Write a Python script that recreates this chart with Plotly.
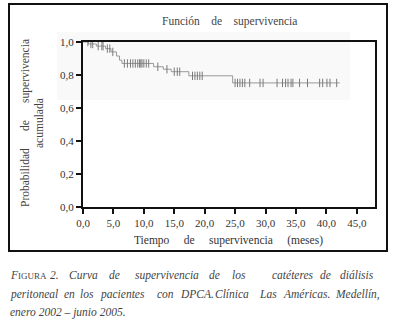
import numpy as np
import plotly.graph_objects as go

# Kaplan-Meier step data
step_times = [0.0, 0.9, 2.2, 3.7, 4.6, 5.5, 6.0, 6.4, 11.6, 13.2, 14.5, 17.4, 24.6]
step_surv = [1.0, 0.988, 0.975, 0.96, 0.94, 0.915, 0.89, 0.87, 0.85, 0.835, 0.82, 0.795, 0.752]
end_time = 42.2

censor_times = [0.8, 1.3, 1.6, 2.5, 3.1, 3.3, 4.0, 4.4, 4.9,
                6.8, 7.3, 7.8, 8.2, 8.6, 9.0, 9.3, 9.5, 9.7, 10.0, 10.4, 10.8,
                12.3, 13.8, 15.0, 15.5, 15.9,
                18.0, 18.4, 18.8, 19.2, 19.6,
                25.0, 25.4, 25.8, 26.2, 26.6, 27.4, 29.1, 29.6, 31.9, 32.8,
                33.3, 33.7, 34.2, 34.5, 35.6, 36.9, 38.9, 39.4, 40.1, 40.6, 41.7]

x_ticks = [0, 5, 10, 15, 20, 25, 30, 35, 40, 45]
y_ticks = [0.0, 0.2, 0.4, 0.6, 0.8, 1.0]

title_text = "Función de supervivencia"
x_title = "Tiempo de supervivencia (meses)"
y_title_1 = "Probabilidad de supervivencia"
y_title_2 = "acumulada"

caption_lines = [
    ["F<span style='font-size:9px;font-style:normal'>IGURA</span>", "2.", "Curva", "de", "supervivencia",
     "de", "los", "catéteres", "de", "diálisis"],
    ["peritoneal", "en", "los", "pacientes", "con", "DPCA.", "Clínica", "Las", "Américas.", "Medellín,"],
    ["enero 2002 – junio 2005."],
]
caption_word_px = [
    [8, 48, 67, 107, 133, 207, 230, 270, 318, 338],
    [8, 62, 78, 98, 155, 178, 213, 257, 281, 333],
    [8],
]
caption_line_py = [275, 294, 312]

# ---- geometry helpers (layout, pixels -> paper)
W, H = 397, 323
L, R, T, B = 83, 22, 42, 116
PW, PH = W - L - R, H - T - B


def px(x):
    return (x - L) / PW


def py(y):
    return (H - B - y) / PH


xs = list(step_times) + [end_time]
ys = list(step_surv) + [step_surv[-1]]
idx = np.searchsorted(np.array(step_times), np.array(censor_times), side="right") - 1
censor_surv = [step_surv[i] for i in idx]

SERIF = "Liberation Serif, Times New Roman, serif"
NB = "\u00a0"

fig = go.Figure()
fig.add_trace(go.Scatter(x=xs, y=ys, mode="lines", line=dict(shape="hv", color="#999999", width=1),
                         hoverinfo="skip", showlegend=False))
fig.add_trace(go.Scatter(x=censor_times, y=censor_surv, mode="markers",
                         marker=dict(symbol="line-ns-open", size=6, color="#7a7a7a",
                                     line=dict(color="#7a7a7a", width=1)),
                         showlegend=False))

axis_common = dict(showline=True, linewidth=2, linecolor="#111", mirror=True, showgrid=False,
                   zeroline=False, ticks="outside", ticklen=5, tickwidth=1.5, tickcolor="#111",
                   tickfont=dict(family=SERIF, size=11, color="#333"), tickformat=".1f")

fig.update_layout(
    width=W, height=H, margin=dict(l=L, r=R, t=T, b=B),
    paper_bgcolor="white", plot_bgcolor="rgba(0,0,0,0)",
    separators=",.",
    xaxis=dict(range=[0, 48], tickvals=x_ticks, **axis_common),
    yaxis=dict(range=[0, 1.0], tickvals=y_ticks, **axis_common),
    font=dict(family=SERIF, color="#333"),
)

shapes = [
    dict(type="rect", xref="paper", yref="paper", x0=px(57), x1=px(350), y0=py(100), y1=py(32),
         fillcolor="#f9f9f9", line=dict(width=0), layer="below"),
    dict(type="rect", xref="paper", yref="paper", x0=px(9), x1=px(387), y0=py(251), y1=py(4),
         line=dict(color="#111", width=2), fillcolor="rgba(0,0,0,0)"),
]
fig.update_layout(shapes=shapes)

ann = []
ann.append(dict(text=title_text.replace(" ", NB * 4), x=px(229), y=py(21), xref="paper", yref="paper",
                showarrow=False, font=dict(family=SERIF, size=11.5, color="#444"),
                xanchor="center", yanchor="middle"))
ann.append(dict(text=x_title.replace(" ", NB * 5), x=px(228.5), y=py(240), xref="paper", yref="paper",
                showarrow=False, font=dict(family=SERIF, size=11.5, color="#333"),
                xanchor="center", yanchor="middle"))
ann.append(dict(text=y_title_1.replace(" ", NB * 6), x=px(25), y=py(123), xref="paper", yref="paper",
                showarrow=False, textangle=-90, font=dict(family=SERIF, size=11.5, color="#444"),
                xanchor="center", yanchor="middle"))
ann.append(dict(text=y_title_2, x=px(39), y=py(123), xref="paper", yref="paper",
                showarrow=False, textangle=-90, font=dict(family=SERIF, size=11.5, color="#444"),
                xanchor="center", yanchor="middle"))

for words, xs_px, ypx in zip(caption_lines, caption_word_px, caption_line_py):
    for w, xp in zip(words, xs_px):
        ann.append(dict(text=w, x=px(xp), y=py(ypx), xref="paper", yref="paper", showarrow=False,
                        xanchor="left", yanchor="middle",
                        font=dict(family=SERIF, size=11.5, color="#444", style="italic")))

fig.update_layout(annotations=ann)
fig.write_html("out.html", config={"displayModeBar": False},
               post_script="document.body.style.margin='0';document.body.style.overflow='hidden';")
